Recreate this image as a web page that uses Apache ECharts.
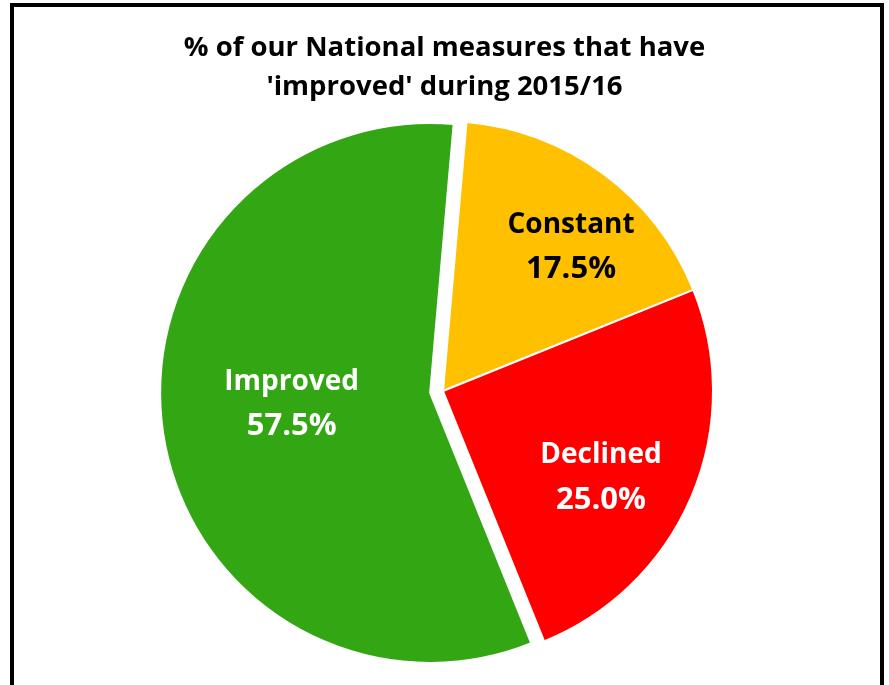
<!DOCTYPE html>
<html>
<head>
<meta charset="utf-8">
<script src="https://cdn.jsdelivr.net/npm/echarts@6/dist/echarts.min.js"></script>
<style>
  html, body { margin: 0; padding: 0; background: #fff; }
  #chart { width: 889px; height: 685px; }
</style>
</head>
<body>
<div id="chart"></div>
<script>
var categories = ['Constant', 'Declined', 'Improved'];
var percents = [17.5, 25.0, 57.5];
var sliceColors = ['#FFC000', '#FF0000', '#33A614'];
var labelColors = ['#000000', '#ffffff', '#ffffff'];
var titleText = "% of our National measures that have\n'improved' during 2015/16";

// nudges to move labels where the original put them
var labelDx = [46, 31, -2];
var labelDy = [-33, 33, -9];

var myChart = echarts.init(document.getElementById('chart'));

var pieData = categories.map(function (name, i) {
    return {
        name: name,
        value: percents[i],
        selected: name === 'Improved',
        itemStyle: { color: sliceColors[i] },
        label: { color: labelColors[i] }
    };
});

var option = {
    animation: false,
    title: {
        text: titleText,
        left: 'center',
        top: 24,
        textStyle: {
            fontFamily: 'Open Sans',
            fontWeight: 'bold',
            fontSize: 27.5,
            lineHeight: 39,
            color: '#000'
        }
    },
    graphic: [
        {
            type: 'rect',
            shape: { x: 12, y: 5, width: 870, height: 720 },
            style: { fill: 'none', stroke: '#000', lineWidth: 4 },
            silent: true
        }
    ],
    series: [
        {
            type: 'pie',
            center: [443, 391],
            radius: [0, 270],
            startAngle: 85,
            clockwise: true,
            selectedMode: 'single',
            selectedOffset: 13,
            avoidLabelOverlap: false,
            data: pieData,
            itemStyle: { borderColor: '#fff', borderWidth: 2 },
            emphasis: { scale: false },
            label: {
                show: true,
                position: 'inside',
                fontFamily: 'Open Sans',
                fontWeight: 'bold',
                formatter: function (p) {
                    return '{n|' + p.name + '}\n{v|' + p.value.toFixed(1) + '%}';
                },
                rich: {
                    n: { fontFamily: 'Open Sans', fontWeight: 'bold', fontSize: 28, lineHeight: 44 },
                    v: { fontFamily: 'Open Sans', fontWeight: 'bold', fontSize: 31, lineHeight: 45 }
                }
            },
            labelLine: { show: false },
            labelLayout: function (params) {
                return { dx: labelDx[params.dataIndex], dy: labelDy[params.dataIndex] };
            }
        }
    ]
};

myChart.setOption(option);
</script>
</body>
</html>
